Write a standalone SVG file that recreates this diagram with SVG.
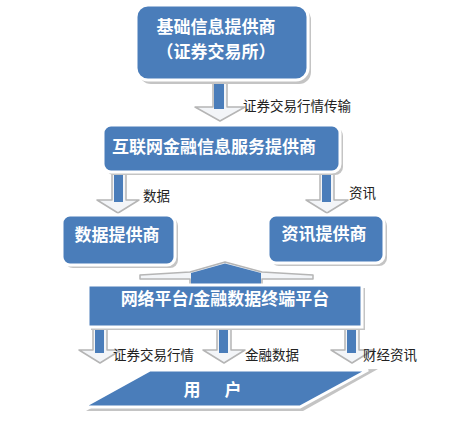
<svg xmlns="http://www.w3.org/2000/svg" width="455" height="422" viewBox="0 0 455 422">
<defs>
<style>
.box{fill:#4A7DBA;stroke:#ffffff;stroke-width:3}
.sh{fill:#c4c4c4}
.t{font-family:"Liberation Sans","Noto Sans CJK SC",sans-serif;font-weight:bold;fill:#ffffff;font-size:17px;text-anchor:middle}
.lb{font-family:"Liberation Sans","Noto Sans CJK SC",sans-serif;fill:#222222;font-size:13.5px}
.ah{fill:#f3f5f8;stroke:#b5b5b5;stroke-width:1.5;stroke-linejoin:round}
.sf{fill:#4A7DBA}
</style>
</defs>
<rect width="455" height="422" fill="#ffffff"/>
<g id="connectors">
  <g id="a1">
    <polygon class="ah" points="213,80 227,80 227,107 245,107 220,121 195,107 213,107"/>
    <rect class="sf" x="214" y="80" width="10" height="29"/>
  </g>
  <g id="a2">
    <polygon class="ah" points="112,174 126,174 126,200 139,200 118,213 97,200 112,200"/>
    <rect class="sf" x="114" y="174" width="9" height="28"/>
  </g>
  <g id="a3">
    <polygon class="ah" points="320,174 334,174 334,200 348,200 327,213 306,200 320,200"/>
    <rect class="sf" x="322" y="174" width="9" height="28"/>
  </g>
  <g id="a4">
    <polygon class="ah" points="190,290 190,279 140,279 140,275 190,272 225,262 262,272 313,275 313,279 262,279 262,290"/>
    <polygon class="sf" points="191,290 191,273 225,263.5 261,273 261,290"/>
  </g>
  <g id="a5">
    <polygon class="ah" points="93,326 107,326 107,350 121,350 100,363 79,350 93,350"/>
    <rect class="sf" x="95" y="326" width="9" height="27"/>
  </g>
  <g id="a6">
    <polygon class="ah" points="217,326 231,326 231,350 245,350 224,363 203,350 217,350"/>
    <rect class="sf" x="219" y="326" width="9" height="27"/>
  </g>
  <g id="a7">
    <polygon class="ah" points="345,326 359,326 359,350 373,350 352,363 331,350 345,350"/>
    <rect class="sf" x="347" y="326" width="9" height="27"/>
  </g>
  <text class="lb" x="243" y="111">证券交易行情传输</text>
  <text class="lb" x="143" y="201">数据</text>
  <text class="lb" x="349" y="198">资讯</text>
  <text class="lb" x="113" y="360">证券交易行情</text>
  <text class="lb" x="245" y="360">金融数据</text>
  <text class="lb" x="363" y="360">财经资讯</text>
</g>
<g id="n1">
  <rect class="sh" x="139" y="8" width="172" height="76" rx="12"/>
  <rect class="box" x="136" y="5" width="172" height="75" rx="12"/>
  <text class="t" x="216" y="33">基础信息提供商</text>
  <text class="t" x="216" y="58">（证券交易所）</text>
</g>
<g id="n2">
  <rect class="sh" x="106" y="128" width="237" height="47" rx="8"/>
  <rect class="box" x="103" y="125" width="237" height="47" rx="8"/>
  <text class="t" x="214" y="153">互联网金融信息服务提供商</text>
</g>
<g id="n3">
  <rect class="sh" x="65" y="218" width="113" height="50" rx="8"/>
  <rect class="box" x="62" y="215" width="113" height="50" rx="8"/>
  <text class="t" x="117" y="241">数据提供商</text>
</g>
<g id="n4">
  <rect class="sh" x="271" y="218" width="116" height="48" rx="8"/>
  <rect class="box" x="268" y="215" width="116" height="48" rx="8"/>
  <text class="t" x="324" y="240">资讯提供商</text>
</g>
<g id="n5">
  <rect class="sh" x="91" y="288" width="274" height="42"/>
  <rect class="box" x="88" y="285" width="274" height="42"/>
  <text class="t" x="225" y="305">网络平台/金融数据终端平台</text>
</g>
<g id="n6">
  <polygon class="sh" points="153,373 378,369 303,411 86,411"/>
  <polygon class="box" points="150,370 368,370 300,407 83,407"/>
  <text class="t" x="192" y="396">用</text>
  <text class="t" x="233" y="396">户</text>
</g>
</svg>
